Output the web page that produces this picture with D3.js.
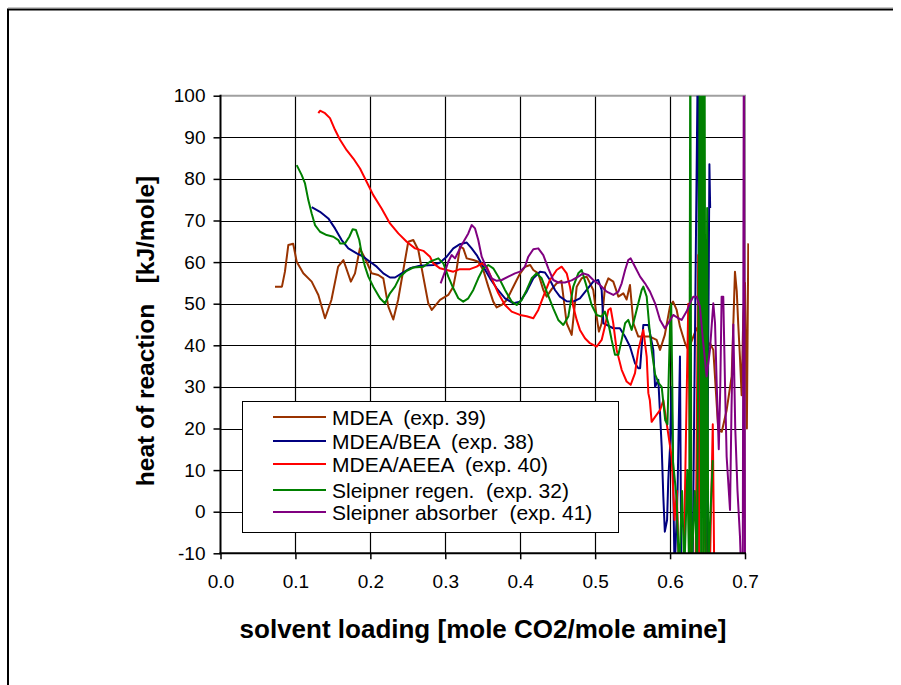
<!DOCTYPE html>
<html>
<head>
<meta charset="utf-8">
<script src="https://cdn.jsdelivr.net/npm/d3@7"></script>
<style>
  body { margin: 0; background: #fff; }
  svg text { font-family: "Liberation Sans", Arial, sans-serif; }
</style>
</head>
<body>
<svg id="chart" width="901" height="685"></svg>
<script>
// x ticks / y ticks
var xTicks = [0.0, 0.1, 0.2, 0.3, 0.4, 0.5, 0.6, 0.7]
var yTicks = [-10, 0, 10, 20, 30, 40, 50, 60, 70, 80, 90, 100]

var seriesNames = ["MDEA  (exp. 39)", "MDEA/BEA  (exp. 38)", "MDEA/AEEA  (exp. 40)",
                   "Sleipner regen.  (exp. 32)", "Sleipner absorber  (exp. 41)"]

// [loading, heat of reaction]
var mdea = [[0.0727,54.1],[0.082,54.1],[0.086,57.7],[0.0905,64.1],[0.097,64.4],[0.1017,60.1],[0.1105,57.3],[0.1217,55.3],[0.1306,52.1],[0.1395,46.5],[0.148,50.9],[0.157,58.9],[0.164,60.5],[0.174,55.3],[0.1795,57.3],[0.186,63.3],[0.194,60.5],[0.2017,57.3],[0.2106,56.9],[0.2173,56.1],[0.224,49.3],[0.2306,46.2],[0.237,50.9],[0.244,58.1],[0.2506,64.9],[0.2573,65.3],[0.264,62.9],[0.2706,56.5],[0.2773,50.1],[0.282,48.5],[0.293,50.9],[0.304,52.1],[0.3107,54.1],[0.315,58.1],[0.3196,63.7],[0.324,63.3],[0.3286,60.9],[0.3374,60.5],[0.344,60.1],[0.3507,58.1],[0.3574,54.1],[0.364,50.5],[0.3686,49.1],[0.3753,49.7],[0.382,50.9],[0.3886,53.3],[0.3953,55.7],[0.4,57.3],[0.4066,58.9],[0.4133,59.3],[0.4175,58.1],[0.424,57.3],[0.4308,53.3],[0.4353,51.7],[0.442,53.5],[0.4486,54.9],[0.455,55.5],[0.462,45.3],[0.4687,42.5],[0.4754,54.1],[0.482,56.1],[0.4887,56.5],[0.4975,53.3],[0.502,46.9],[0.505,43.3],[0.5087,45.3],[0.5132,54.1],[0.5176,56.1],[0.5242,55.3],[0.531,51.7],[0.5376,52.5],[0.542,51],[0.5465,54.5],[0.551,45.3],[0.5576,42.1],[0.5665,42.1],[0.573,42.1],[0.582,41.3],[0.5866,38.9],[0.593,42.5],[0.5998,49.3],[0.604,50.5],[0.6088,48.5],[0.6132,44.5],[0.62,40.5],[0.6243,38.9],[0.631,42.1],[0.6355,44.1],[0.641,42],[0.647,39],[0.6533,40.5],[0.6577,38.9],[0.6644,19.6],[0.669,19.2],[0.6755,24.4],[0.6822,32.5],[0.6844,45],[0.6866,57.7],[0.689,53],[0.691,45],[0.6933,37],[0.6955,28],[0.6977,47],[0.7,55],[0.7015,35],[0.7025,20],[0.7044,64.5]]

var mdeaBea = [[0.1217,73.2],[0.1328,72.1],[0.1439,70.5],[0.1528,68.1],[0.1617,65.3],[0.1706,63.3],[0.1818,62.1],[0.1906,61.3],[0.1995,60.1],[0.2085,58.9],[0.2173,57.3],[0.2262,56.3],[0.2329,56.3],[0.2418,57.3],[0.2529,58.5],[0.2662,59.1],[0.284,59.3],[0.293,59.9],[0.3019,61.3],[0.3107,63.3],[0.3196,64.3],[0.3286,64.7],[0.3352,63.3],[0.3419,61.7],[0.3507,58.9],[0.3597,56.1],[0.3686,53.7],[0.3797,51.3],[0.3908,50.1],[0.3997,50.5],[0.4086,52.9],[0.4175,56.1],[0.4264,57.7],[0.433,57.5],[0.4397,55.7],[0.4464,53.3],[0.453,51.7],[0.462,50.6],[0.4708,50.5],[0.4797,51.3],[0.4887,53.3],[0.4975,55.3],[0.5042,55.7],[0.5087,53.3],[0.511,45.3],[0.5154,44.9],[0.5242,44.1],[0.533,44.1],[0.5398,42.1],[0.5465,39.7],[0.5532,35.7],[0.5576,34.5],[0.56,34.5],[0.5643,44.9],[0.571,44.9],[0.5776,38.9],[0.58,30],[0.5843,31.7],[0.5866,23.7],[0.5888,15.6],[0.591,3.6],[0.593,-4.8],[0.596,-2],[0.5976,7.6],[0.6,15.6],[0.602,30],[0.604,10],[0.606,-15],[0.61,5],[0.6132,37.3],[0.615,-15],[0.63,-15],[0.6376,120],[0.639,-15],[0.649,-15],[0.6525,83.5],[0.6535,73]]

var mdeaAeea = [[0.1306,95.8],[0.1328,96.4],[0.1395,95.8],[0.1461,94.6],[0.1528,91.8],[0.1595,89.4],[0.1684,86.9],[0.1773,84.9],[0.1862,82.5],[0.195,79.3],[0.2039,76.1],[0.215,72.9],[0.2262,69.3],[0.2373,66.9],[0.2485,64.9],[0.2596,63.3],[0.2707,62.7],[0.2796,61.3],[0.284,59.7],[0.293,58.5],[0.3019,58.1],[0.3107,57.7],[0.3196,58.3],[0.3329,58.3],[0.3419,58.9],[0.3486,59.7],[0.3552,58.9],[0.3619,56.1],[0.3708,52.5],[0.3797,49.7],[0.3886,48.1],[0.3997,47.3],[0.4086,47.0],[0.4175,46.5],[0.4241,48.5],[0.4308,51.7],[0.4397,55.7],[0.4486,58.1],[0.4553,58.9],[0.462,57.3],[0.4664,54.1],[0.4708,49.3],[0.4754,46.1],[0.4797,43.7],[0.4864,41.7],[0.493,40.5],[0.502,39.7],[0.5087,41.3],[0.513,44.5],[0.5176,48.5],[0.5207,48.9],[0.5242,45.3],[0.5287,38.9],[0.5354,34.1],[0.542,31.3],[0.5474,30.5],[0.5532,33.3],[0.5576,38.9],[0.5621,42.1],[0.5643,43.7],[0.5688,37.3],[0.571,28.5],[0.573,26.8],[0.5754,21.6],[0.58,22.8],[0.5866,24.4],[0.591,26.8],[0.5955,21.2],[0.6021,13.2],[0.606,-2],[0.609,5],[0.612,-15],[0.618,-15],[0.6243,50],[0.628,-15],[0.634,-15],[0.6376,61.7],[0.639,-15],[0.644,-15],[0.646,10],[0.648,-15],[0.653,-15],[0.657,21],[0.659,-15]]

var sleipnerRegen = [[0.1017,83.3],[0.1084,80.9],[0.1128,78.9],[0.1172,74.9],[0.1217,71.7],[0.1261,68.9],[0.1328,67.3],[0.1417,66.5],[0.1506,66.1],[0.1573,65.3],[0.1595,64.5],[0.1662,64.5],[0.1719,66.1],[0.1764,67.9],[0.1808,67.7],[0.1852,65.3],[0.1884,62.1],[0.1929,58.9],[0.1973,56.5],[0.2039,54.1],[0.2129,51.3],[0.2195,50.1],[0.2262,52.5],[0.2329,54.1],[0.2396,56.5],[0.2485,57.9],[0.2573,58.7],[0.2707,58.9],[0.2796,60.1],[0.2907,60.9],[0.2974,59.7],[0.304,56.5],[0.3107,53.7],[0.3174,51.3],[0.324,50.5],[0.3307,51.3],[0.3374,53.3],[0.344,56.1],[0.3507,58.5],[0.3574,59.3],[0.364,58.5],[0.3708,56.5],[0.3797,53.3],[0.3886,50.5],[0.3953,49.7],[0.402,50.9],[0.4086,53.3],[0.4153,56.1],[0.422,57.3],[0.4286,56.1],[0.4353,52.9],[0.4441,48.9],[0.4508,46.1],[0.4575,44.9],[0.4642,46.9],[0.4708,54.1],[0.4775,57.3],[0.482,58.1],[0.4887,54.1],[0.4953,49.7],[0.502,47.3],[0.5087,46.9],[0.513,48.1],[0.5176,45.3],[0.522,41.3],[0.5265,37.7],[0.531,37.7],[0.5354,41.3],[0.54,45.3],[0.5442,46.1],[0.5487,43.7],[0.5532,46.9],[0.5576,50.1],[0.5621,53.3],[0.5643,54.1],[0.5688,51.7],[0.5723,44.5],[0.5754,38.9],[0.58,33],[0.5845,31],[0.5888,30],[0.5935,22],[0.5965,21],[0.6,45],[0.6015,50],[0.603,30],[0.604,12],[0.6088,3],[0.612,-15],[0.616,5],[0.619,-15],[0.623,10],[0.6255,-15],[0.627,120],[0.6285,-15],[0.633,5],[0.636,-15],[0.64,120],[0.6415,-15],[0.643,120],[0.6445,-15],[0.646,120],[0.6475,-15],[0.6495,73],[0.651,-15],[0.654,0],[0.657,12.4]]

var sleipnerAbs = [[0.2938,54.9],[0.2996,57.7],[0.304,60.1],[0.3085,61.7],[0.313,60.9],[0.3174,62.5],[0.323,64.5],[0.3307,66.9],[0.3352,68.9],[0.3397,68.1],[0.344,65.3],[0.3486,61.3],[0.3552,58.5],[0.3619,56.1],[0.3686,55.5],[0.3753,55.7],[0.3841,56.5],[0.393,57.3],[0.3997,57.7],[0.4063,58.9],[0.4108,61.3],[0.4175,63.1],[0.4241,63.3],[0.4308,61.7],[0.4375,58.5],[0.4441,55.7],[0.4508,55.1],[0.4597,55.1],[0.4686,55.6],[0.4775,56.5],[0.484,57.3],[0.4908,56.9],[0.4975,55.7],[0.5064,54.5],[0.5154,52.9],[0.5242,52.1],[0.531,52.9],[0.5354,54.9],[0.54,58.1],[0.5442,60.5],[0.5474,60.9],[0.5532,58.9],[0.56,56.5],[0.5665,54.9],[0.5732,52.9],[0.58,50.1],[0.5866,46.1],[0.593,44.1],[0.5976,45.3],[0.6042,47.3],[0.611,46.5],[0.6154,46.1],[0.622,48.1],[0.6265,50.1],[0.631,51.7],[0.6355,51.7],[0.6398,49.3],[0.6443,40.5],[0.6488,32.5],[0.6532,38.9],[0.6577,50.1],[0.66,45.3],[0.6622,30.9],[0.665,15],[0.667,30],[0.6688,51.7],[0.671,51.7],[0.6733,30.9],[0.6755,13.2],[0.68,0.4],[0.682,25],[0.6844,45],[0.687,20],[0.69,5],[0.6933,-6],[0.695,-15],[0.697,-15],[0.6985,120],[0.7,-15]]

var allSeries = [mdea, mdeaBea, mdeaAeea, sleipnerRegen, sleipnerAbs]
var colors = ["#993300", "#000080", "#ff0000", "#008000", "#800080"]

var plotL = 220.5, plotR = 745, plotT = 95.7, plotB = 553.3

var x = d3.scaleLinear().domain([0, 0.7]).range([plotL, plotR])
var y = d3.scaleLinear().domain([-10, 100]).range([plotB, plotT])

var svg = d3.select('#chart')

// outer frame
svg.append('line').attr('x1', 8).attr('y1', 7.5).attr('x2', 893).attr('y2', 7.5)
    .style('stroke', '#c8c8c8').style('stroke-width', 1)
svg.append('path').attr('d', 'M8,685 L8,9.5 L893,9.5')
    .style('fill', 'none').style('stroke', '#000').style('stroke-width', 2)

// grid
svg.append('g').selectAll('line').data(yTicks.slice(1, -1)).join('line')
    .attr('x1', plotL).attr('x2', plotR)
    .attr('y1', function(d) { return Math.round(y(d)) + 0.5 })
    .attr('y2', function(d) { return Math.round(y(d)) + 0.5 })
    .style('stroke', '#000').style('stroke-width', 1.2)

svg.append('g').selectAll('line').data(xTicks.slice(1, -1)).join('line')
    .attr('y1', plotT).attr('y2', plotB)
    .attr('x1', function(d) { return Math.round(x(d)) + 0.5 })
    .attr('x2', function(d) { return Math.round(x(d)) + 0.5 })
    .style('stroke', '#000').style('stroke-width', 1.2)

// top and right plot border
svg.append('path')
    .attr('d', 'M' + plotL + ',' + plotT + ' L' + plotR + ',' + plotT + ' L' + plotR + ',' + plotB)
    .style('fill', 'none').style('stroke', '#a0a0a0').style('stroke-width', 2)

// series
svg.append('clipPath').attr('id', 'plot-clip')
    .append('rect').attr('x', plotL - 2).attr('y', plotT).attr('width', plotR - plotL + 6).attr('height', plotB - plotT)

var line = d3.line()
    .x(function(d) { return x(d[0]) })
    .y(function(d) { return y(d[1]) })

svg.append('g').attr('clip-path', 'url(#plot-clip)')
    .selectAll('path').data(allSeries).join('path')
    .attr('d', line)
    .style('fill', 'none')
    .style('stroke', function(d, i) { return colors[i] })
    .style('stroke-width', 2)
    .style('stroke-linejoin', 'round')

// axes
var yAxis = svg.append('g').attr('transform', 'translate(' + plotL + ',0)')
    .call(d3.axisLeft(y).tickValues(yTicks).tickSize(7).tickPadding(8)
        .tickFormat(function(d) { return String(d) }))
var xAxis = svg.append('g').attr('transform', 'translate(0,' + plotB + ')')
    .call(d3.axisBottom(x).tickValues(xTicks).tickSize(6).tickPadding(15)
        .tickFormat(function(d) { return d.toFixed(1) }))

svg.selectAll('.domain').style('stroke', '#000').style('stroke-width', 2)
svg.selectAll('.tick line').style('stroke', '#000').style('stroke-width', 1.5)
svg.selectAll('.tick text')
    .style('font-family', '"Liberation Sans", Arial, sans-serif')
    .style('font-size', '19px').style('fill', '#000')
yAxis.select('.domain').attr('d', 'M0,' + (plotT - 1) + 'V' + (plotB + 1))
xAxis.select('.domain').attr('d', 'M' + (plotL - 1) + ',0H' + (plotR + 1))

// axis titles
svg.append('text')
    .text('heat of reaction   [kJ/mole]')
    .attr('transform', 'translate(154,331) rotate(-90)')
    .attr('text-anchor', 'middle')
    .style('white-space', 'pre')
    .style('font-weight', 'bold')
    .style('font-size', '24.5px')

svg.append('text')
    .text('solvent loading [mole CO2/mole amine]')
    .attr('x', 483).attr('y', 638)
    .attr('text-anchor', 'middle')
    .style('font-weight', 'bold')
    .style('font-size', '26px')

// legend
var legend = svg.append('g')
legend.append('rect')
    .attr('x', 242.5).attr('y', 401.5).attr('width', 376).attr('height', 131)
    .style('fill', '#fff').style('stroke', '#000').style('stroke-width', 1)

var rowY = [417, 441, 464, 490, 512]
var rows = legend.selectAll('g.row').data(seriesNames).join('g')
    .attr('class', 'row')
    .attr('transform', function(d, i) { return 'translate(0,' + rowY[i] + ')' })
rows.append('line')
    .attr('x1', 273).attr('x2', 326).attr('y1', 0).attr('y2', 0)
    .style('stroke', function(d, i) { return colors[i] })
    .style('stroke-width', 2)
rows.append('text')
    .text(function(d) { return d })
    .attr('x', 332).attr('y', 7.5)
    .style('white-space', 'pre')
    .style('font-size', '21px')
</script>
</body>
</html>
